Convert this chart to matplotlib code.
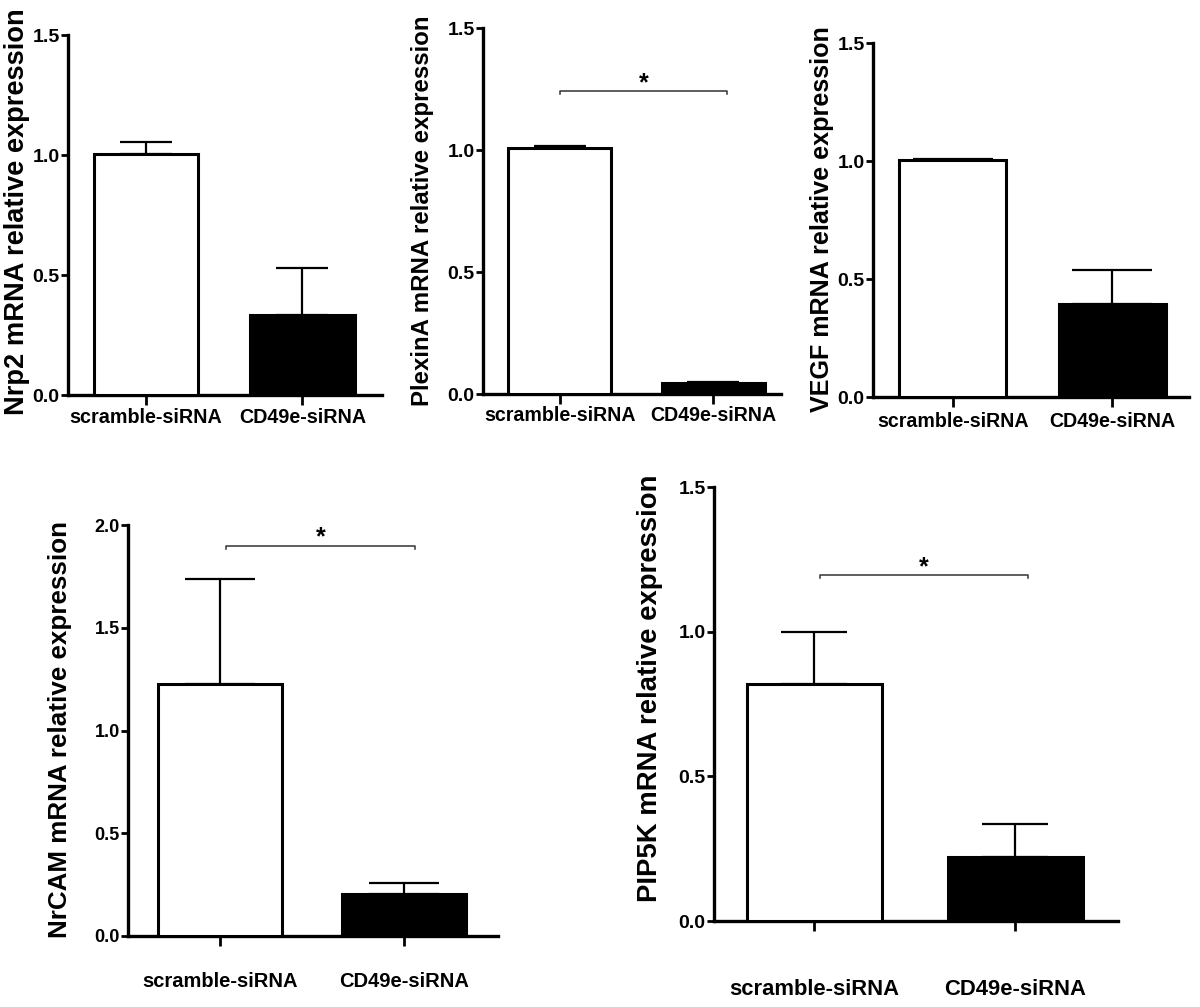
import matplotlib
matplotlib.use("Agg")
import matplotlib.pyplot as plt

plt.rcParams['font.family'] = ['Liberation Sans', 'DejaVu Sans']
plt.rcParams['font.weight'] = 'bold'

# data
groups = ['scramble-siRNA', 'CD49e-siRNA']
genes = ['Nrp2', 'PlexinA', 'VEGF', 'NrCAM', 'PIP5K']
nrp2_mean = [1.005, 0.335]
nrp2_err = [0.05, 0.195]
plexina_mean = [1.01, 0.046]
plexina_err = [0.008, 0.003]
vegf_mean = [1.005, 0.395]
vegf_err = [0.002, 0.145]
nrcam_mean = [1.225, 0.205]
nrcam_err = [0.51, 0.055]
pip5k_mean = [0.82, 0.22]
pip5k_err = [0.178, 0.115]
y_top = [1.5, 1.5, 1.5, 2.0, 1.5]
# significance brackets: (x0, x1, y) or None
brackets = [None, (0.0, 1.09, 1.24), None, (0.03, 1.06, 1.90), (0.025, 1.06, 1.196)]

means = [nrp2_mean, plexina_mean, vegf_mean, nrcam_mean, pip5k_mean]
errs = [nrp2_err, plexina_err, vegf_err, nrcam_err, pip5k_err]

W, H = 1200, 1007
fig = plt.figure(figsize=(W / 100, H / 100), dpi=100)

# pixel boxes (left, top, right, bottom) of each plot area
boxes = [(68, 35, 382, 395), (483, 28, 781, 394), (873, 43, 1189, 397),
         (128, 525, 498, 936), (714, 487, 1118, 921)]
xr = [1.51, 1.44, 1.48, 1.51, 1.51]
ylab_size = [19.6, 17.3, 18.1, 18.7, 19.8]
xlab_size = [14.2, 14.1, 14.1, 14.5, 15.8]
ytick_size = [14, 14, 14, 13, 14]
xpad = [2.5, 1.5, 4, 19, 35]
ylab_x = [17, 422, 822, 60, 650]
ylab_y = [212, 211, 219, 729, 688]
caps = [38, 38, 57, 50, 48]

for i in range(5):
    l, t, r, b = boxes[i]
    ax = fig.add_axes([l / W, 1 - b / H, (r - l) / W, (b - t) / H])
    x = [0, 1]
    ax.errorbar(x, means[i], yerr=[[0, 0], errs[i]], fmt='none', ecolor='black',
                elinewidth=1.6, capsize=caps[i] / 2, capthick=1.6, zorder=2)
    ax.bar(x, means[i], width=0.67, color=['white', 'black'], edgecolor='black',
           linewidth=2.2, zorder=3)
    ax.set_xlim(-0.5, xr[i])
    ax.set_ylim(0, y_top[i])
    ax.set_yticks([k * 0.5 for k in range(int(y_top[i] / 0.5) + 1)])
    ax.set_yticklabels(['%.1f' % (k * 0.5) for k in range(int(y_top[i] / 0.5) + 1)],
                       fontsize=ytick_size[i], fontweight='bold')
    ax.set_xticks(x)
    ax.set_xticklabels(groups, fontsize=xlab_size[i], fontweight='bold')
    for s in ['top', 'right']:
        ax.spines[s].set_visible(False)
    for s in ['left', 'bottom']:
        ax.spines[s].set_linewidth(2.4)
    ax.tick_params(axis='y', length=5, width=2, pad=1)
    ax.tick_params(axis='x', length=7, width=2, pad=xpad[i])
    ax.set_facecolor('none')
    fig.text(ylab_x[i] / W, 1 - ylab_y[i] / H,
             genes[i] + ' mRNA relative expression', rotation=90,
             ha='center', va='center', fontsize=ylab_size[i], fontweight='bold')
    if brackets[i] is not None:
        x0, x1, yb = brackets[i]
        d = y_top[i] * 0.008
        ax.plot([x0, x0, x1, x1], [yb - d, yb, yb, yb - d], color='#333333',
                lw=1.1, clip_on=False)
        ax.annotate('*', ((x0 + x1) / 2, yb), xytext=(0, -3), textcoords='offset points',
                    ha='center', va='bottom', fontsize=18, fontweight='bold')

fig.savefig('out.png', dpi=100, facecolor='white')
